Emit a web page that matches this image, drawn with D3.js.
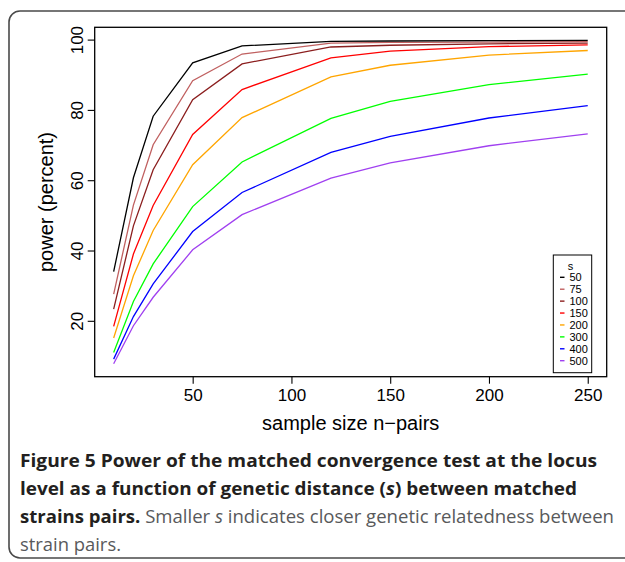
<!DOCTYPE html>
<html>
<head>
<meta charset="utf-8">
<script src="https://cdn.jsdelivr.net/npm/d3@7"></script>
<style>
  html, body { margin: 0; padding: 0; background: #fff; }
  svg { display: block; }
</style>
</head>
<body>
<script>
// ---- data ----
const sampleSizes = [10, 20, 30, 50, 75, 120, 150, 200, 250];
const sLevels = ["50", "75", "100", "150", "200", "300", "400", "500"];
const power50  = [34.0, 60.7, 78.2, 93.4, 98.2, 99.5, 99.6, 99.7, 99.8];
const power75  = [27.6, 52.9, 70.1, 88.3, 95.9, 99.0, 99.2, 99.3, 99.4];
const power100 = [23.3, 47.0, 63.0, 82.9, 93.1, 97.9, 98.4, 98.8, 99.0];
const power150 = [18.4, 39.0, 52.8, 73.0, 85.8, 94.8, 96.7, 98.0, 98.5];
const power200 = [15.1, 32.8, 45.7, 64.4, 77.8, 89.4, 92.7, 95.6, 96.9];
const power300 = [11.0, 25.5, 36.2, 52.5, 65.2, 77.6, 82.4, 87.2, 90.2];
const power400 = [9.1, 21.2, 30.5, 45.4, 56.5, 67.9, 72.5, 77.7, 81.2];
const power500 = [7.8, 18.6, 26.7, 40.2, 50.2, 60.6, 64.9, 69.8, 73.2];
const xTicks = [50, 100, 150, 200, 250];
const yTicks = [20, 40, 60, 80, 100];
const seriesColors = ["#000000", "#c06060", "#8b1e1e", "#ff0000", "#ffa500", "#00ff00", "#0000ff", "#a040f0"];

const seriesValues = [power50, power75, power100, power150, power200, power300, power400, power500];
const series = sLevels.map((s, i) => ({
  s, color: seriesColors[i],
  points: sampleSizes.map((n, j) => ({ n, p: seriesValues[i][j] }))
}));

// ---- layout ----
const W = 625, H = 562;
const plot = { left: 94.7, top: 27.3, right: 606.7, bottom: 376.7 };

const svg = d3.select("body").append("svg").attr("width", W).attr("height", H);

// outer rounded frame
svg.append("rect")
  .attr("x", 9).attr("y", 11).attr("width", 640).attr("height", 547)
  .attr("rx", 11).attr("ry", 11)
  .attr("fill", "none").attr("stroke", "#4a4a4a").attr("stroke-width", 1.6);

const x = d3.scaleLinear().domain([0.4, 259.6]).range([plot.left, plot.right]);
const y = d3.scaleLinear().domain([4.1, 103.5]).range([plot.bottom, plot.top]);

const axisFont = "'Liberation Sans', Arial, Helvetica, sans-serif";

// lines
const line = d3.line().x(d => x(d.n)).y(d => y(d.p));
svg.append("g").selectAll("path").data(series.slice().reverse()).join("path")
  .attr("d", d => line(d.points))
  .attr("fill", "none")
  .attr("stroke", d => d.color)
  .attr("stroke-width", 1.3)
  .attr("stroke-linejoin", "miter");

// plot box
svg.append("rect")
  .attr("x", plot.left).attr("y", plot.top)
  .attr("width", plot.right - plot.left).attr("height", plot.bottom - plot.top)
  .attr("fill", "none").attr("stroke", "#000").attr("stroke-width", 1.3);

// x axis
const xAxis = svg.append("g")
  .attr("transform", `translate(0,${plot.bottom})`)
  .call(d3.axisBottom(x).tickValues(xTicks).tickSize(7).tickPadding(5).tickFormat(d3.format("d")));
xAxis.select(".domain").remove();
xAxis.selectAll("line").attr("stroke", "#000").attr("stroke-width", 1.1);
xAxis.selectAll("text").attr("font-family", axisFont).attr("font-size", 17).attr("fill", "#000");

// y axis
const yAxis = svg.append("g")
  .attr("transform", `translate(${plot.left},0)`)
  .call(d3.axisLeft(y).tickValues(yTicks).tickSize(7).tickFormat(d3.format("d")));
yAxis.select(".domain").remove();
yAxis.selectAll("line").attr("stroke", "#000").attr("stroke-width", 1.1);
yAxis.selectAll("text")
  .attr("font-family", axisFont).attr("font-size", 17).attr("fill", "#000")
  .attr("x", null).attr("dy", null)
  .attr("text-anchor", "middle")
  .attr("transform", "translate(-12,0) rotate(-90)")
  .attr("y", 0);

// axis titles
svg.append("text")
  .attr("x", (plot.left + plot.right) / 2).attr("y", 430)
  .attr("text-anchor", "middle")
  .attr("font-family", axisFont).attr("font-size", 20)
  .text("sample size n\u2212pairs");

svg.append("text")
  .attr("transform", `translate(53,${(plot.top + plot.bottom) / 2}) rotate(-90)`)
  .attr("text-anchor", "middle")
  .attr("font-family", axisFont).attr("font-size", 20)
  .text("power (percent)");

// legend
const lg = svg.append("g");
lg.append("rect")
  .attr("x", 553.3).attr("y", 255).attr("width", 38.4).attr("height", 117.7)
  .attr("fill", "#fff").attr("stroke", "#000").attr("stroke-width", 1);
lg.append("text")
  .attr("x", 570.5).attr("y", 269.5)
  .attr("font-family", axisFont).attr("font-size", 11)
  .attr("text-anchor", "middle")
  .text("s");
const itemY = d3.scaleLinear().domain([0, 7]).range([277.3, 360.7]);
const items = lg.selectAll("g.item").data(series).join("g").attr("class", "item")
  .attr("transform", (d, i) => `translate(0,${itemY(i)})`);
items.append("line")
  .attr("x1", 560).attr("x2", 564.5).attr("y1", 0).attr("y2", 0)
  .attr("stroke", d => d.color).attr("stroke-width", 1.4);
items.append("text")
  .attr("x", 569.5).attr("y", 4)
  .attr("font-family", axisFont).attr("font-size", 11)
  .text(d => d.s);

// caption
const capFont = "'Open Sans', 'Noto Sans', sans-serif";
function capLine(yPos, parts, len) {
  const t = svg.append("text")
    .attr("x", 20).attr("y", yPos)
    .attr("font-family", capFont).attr("font-size", 18.5);
  parts.forEach(p => {
    t.append("tspan")
      .attr("font-weight", p.bold ? 700 : 400)
      .attr("font-style", p.italic ? "italic" : "normal")
      .attr("fill", p.bold ? "#231f20" : "#58595b")
      .text(p.t);
  });
  if (len) t.attr("textLength", len).attr("lengthAdjust", "spacingAndGlyphs");
  return t;
}
capLine(467, [{ t: "Figure 5 Power of the matched convergence test at the locus", bold: true }], 577);
capLine(495, [
  { t: "level as a function of genetic distance (", bold: true },
  { t: "s", bold: true, italic: true },
  { t: ") between matched", bold: true }
], 557);
capLine(523, [
  { t: "strains pairs.", bold: true },
  { t: " Smaller " },
  { t: "s", italic: true },
  { t: " indicates closer genetic relatedness between" }
], 594);
capLine(551, [{ t: "strain pairs." }], 101);
</script>
</body>
</html>
